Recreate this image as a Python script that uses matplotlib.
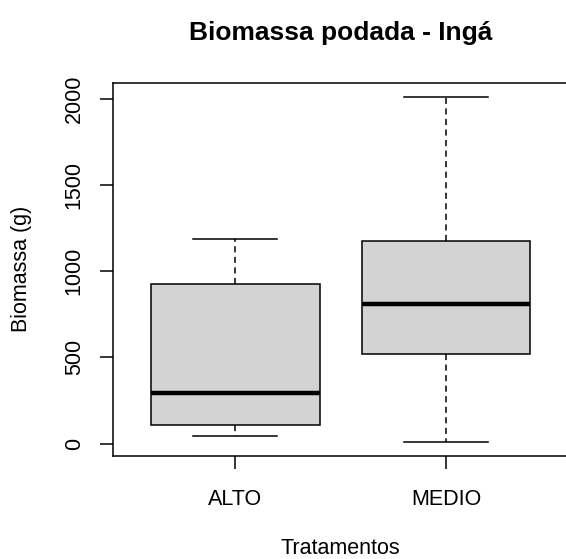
import matplotlib

matplotlib.use("Agg")
import matplotlib.pyplot as plt  # noqa: E402

plt.rcParams["font.family"] = ["Liberation Sans", "DejaVu Sans"]

# summary stats (g)
tratamentos = ["ALTO", "MEDIO"]
whisker_lo = [46, 8]
q1 = [110, 519]
median = [296, 808]
q3 = [928, 1178]
whisker_hi = [1188, 2015]

stats = [
    dict(label=t, whislo=lo, q1=a, med=m, q3=b, whishi=hi, fliers=[])
    for t, lo, a, m, b, hi in zip(tratamentos, whisker_lo, q1, median, q3, whisker_hi)
]

fig = plt.figure(figsize=(5.66, 5.59), dpi=100)
ax = fig.add_axes([0.2002, 0.1843, 0.8033, 0.6677])

ax.bxp(
    stats,
    positions=[1, 2],
    widths=0.8,
    patch_artist=True,
    boxprops=dict(facecolor="#d3d3d3", edgecolor="black", linewidth=1.1),
    medianprops=dict(color="black", linewidth=3.2, solid_capstyle="butt"),
    whiskerprops=dict(color="black", linewidth=1.1, linestyle=(0, (4, 2.9))),
    capprops=dict(color="black", linewidth=1.1),
    capwidths=0.4,
)

lo, hi = min(whisker_lo), max(whisker_hi)
pad = 0.04 * (hi - lo)
ax.set_ylim(lo - pad, hi + pad)
ax.set_xlim(0.42, 2.58)
ax.set_yticks([0, 500, 1000, 1500, 2000])
ax.set_xticks([1, 2], tratamentos)

ax.tick_params(axis="both", labelsize=15.5, length=9.5, width=1.1, color="black")
ax.tick_params(axis="x", pad=14)
ax.tick_params(axis="y", pad=11)
for lab in ax.get_yticklabels():
    lab.set_rotation(90)
    lab.set_va("center")
for s in ax.spines.values():
    s.set_linewidth(1.1)

ax.set_title("Biomassa podada - Ingá", fontsize=19, fontweight="bold", pad=30.5)
ax.set_xlabel("Tratamentos", fontsize=15.5, labelpad=20.5)
ax.set_ylabel("Biomassa (g)", fontsize=15.5, labelpad=23)

fig.savefig("out.png", dpi=100)
